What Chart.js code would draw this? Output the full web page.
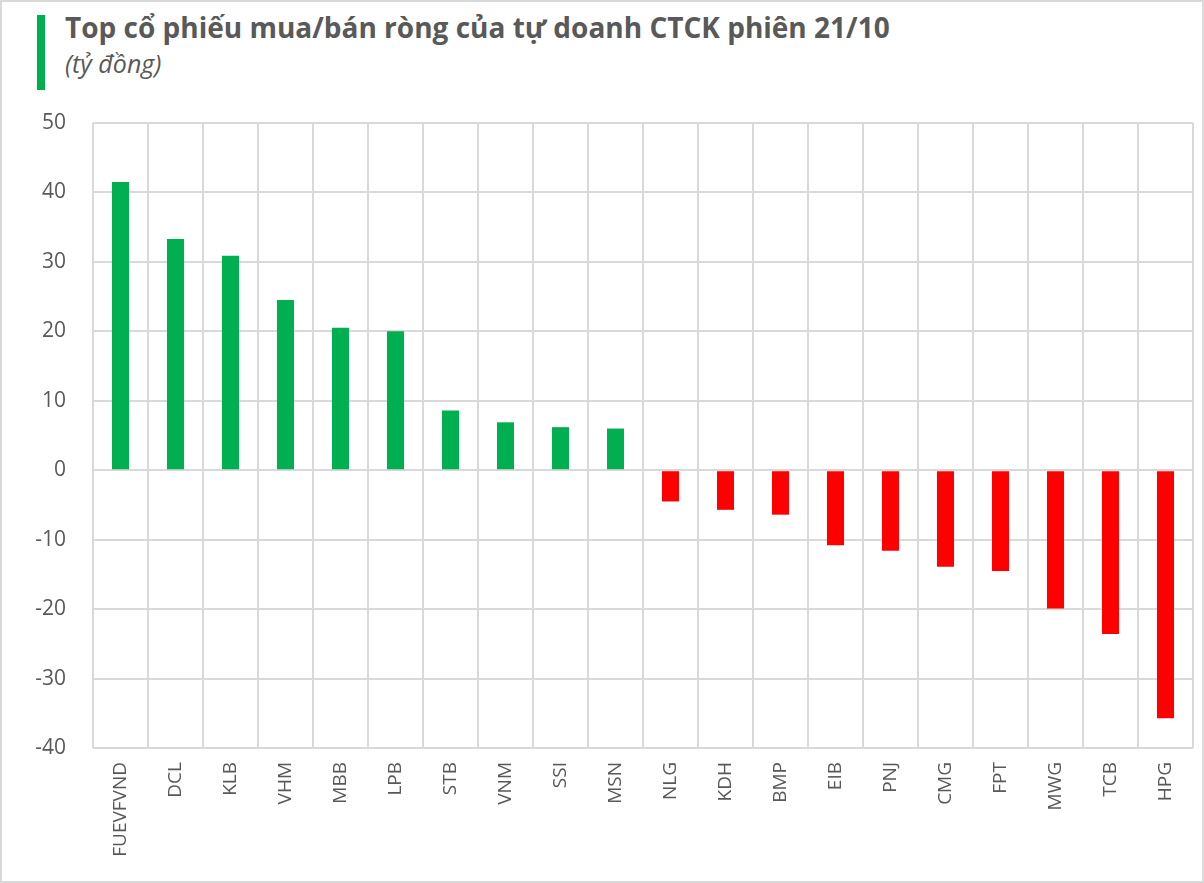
<!DOCTYPE html>
<html>
<head>
<meta charset="utf-8">
<script src="https://cdn.jsdelivr.net/npm/chart.js@4/dist/chart.umd.min.js"></script>
<style>
  html, body { margin: 0; padding: 0; background: #fff; }
  #wrap { position: relative; width: 1204px; height: 883px; box-sizing: border-box; border: 2px solid #d9d9d9; overflow: hidden; }
  #mark { position: absolute; left: 35px; top: 13px; width: 8px; height: 75px; background: #00b050; }
  #title { position: absolute; left: 63px; top: 6px; font: bold 28px "Open Sans", sans-serif; color: #595959; white-space: nowrap; }
  #sub { position: absolute; left: 63px; top: 44px; font: italic 25px "Open Sans", sans-serif; color: #595959; }
  canvas { position: absolute; left: -2px; top: -2px; }
</style>
</head>
<body>
<div id="wrap">
  <div id="mark"></div>
  <div id="title">Top cổ phiếu mua/bán ròng của tự doanh CTCK phiên 21/10</div>
  <div id="sub">(tỷ đồng)</div>
  <canvas id="chart" width="1204" height="883"></canvas>
</div>
<script>
const tickers = ['FUEVFVND', 'DCL', 'KLB', 'VHM', 'MBB', 'LPB', 'STB', 'VNM', 'SSI', 'MSN',
  'NLG', 'KDH', 'BMP', 'EIB', 'PNJ', 'CMG', 'FPT', 'MWG', 'TCB', 'HPG'];
const netValues = [41.5, 33.3, 30.9, 24.5, 20.5, 20.0, 8.6, 6.9, 6.2, 6.0,
  -4.5, -5.7, -6.4, -10.8, -11.6, -13.9, -14.5, -19.9, -23.6, -35.7];
const yTicks = [50, 40, 30, 20, 10, 0, -10, -20, -30, -40];

const GREEN = '#00b050';
const RED = '#ff0000';
const GRID = '#d9d9d9';
const TEXT = '#595959';

new Chart(document.getElementById('chart'), {
  type: 'bar',
  data: {
    labels: tickers,
    datasets: [{
      data: netValues,
      backgroundColor: netValues.map(v => v >= 0 ? GREEN : RED),
      borderWidth: 0,
      barPercentage: 0.62,
      categoryPercentage: 0.5
    }]
  },
  options: {
    responsive: false,
    animation: false,
    layout: { padding: { top: 123, right: 11, left: 0, bottom: 0 } },
    plugins: {
      legend: { display: false },
      tooltip: { enabled: false }
    },
    scales: {
      x: {
        grid: { color: GRID, lineWidth: 2, offset: true, drawTicks: false },
        border: { display: false },
        ticks: {
          color: TEXT,
          font: { family: 'Open Sans', size: 19 },
          minRotation: 90,
          maxRotation: 90,
          padding: 14,
          autoSkip: false
        },
        afterFit: s => { s.height = 135; }
      },
      y: {
        min: -40,
        max: 50,
        afterBuildTicks: s => { s.ticks = yTicks.map(v => ({ value: v })); },
        grid: { color: GRID, lineWidth: 2, drawTicks: false },
        border: { display: false },
        ticks: {
          color: TEXT,
          font: { family: 'Open Sans', size: 21 },
          padding: 27
        },
        afterFit: s => { s.width = 93; }
      }
    }
  }
});
</script>
</body>
</html>
